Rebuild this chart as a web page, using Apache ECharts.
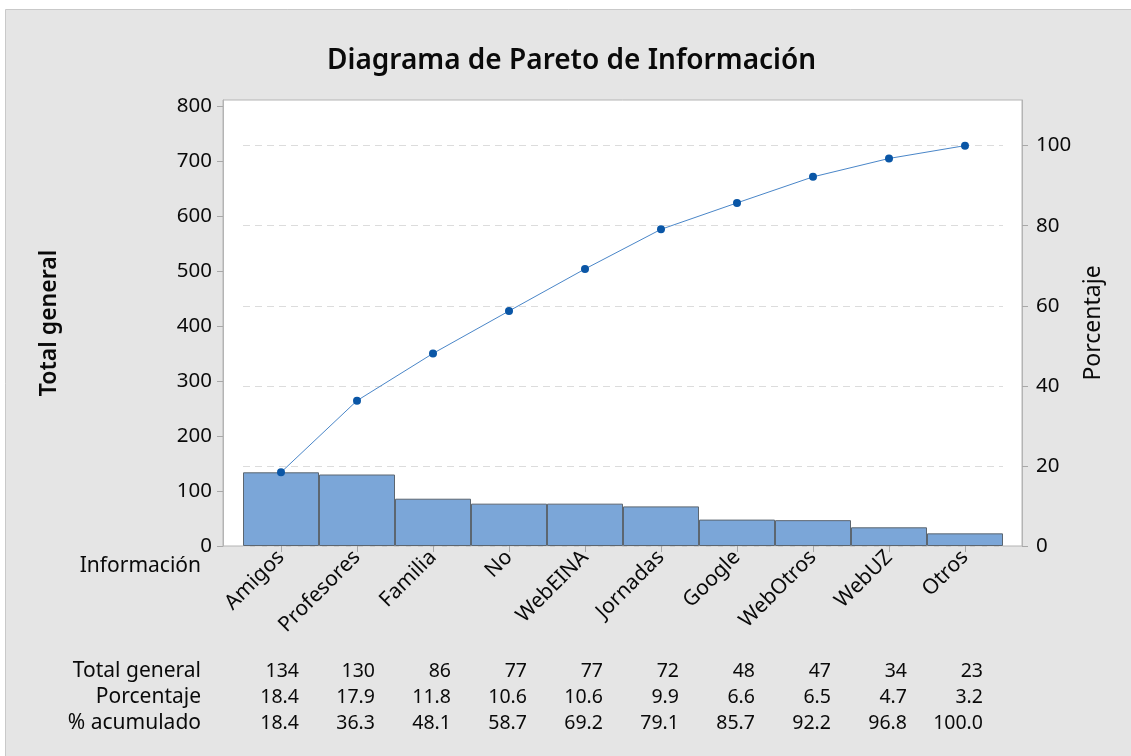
<!DOCTYPE html>
<html>
<head>
<meta charset="utf-8">
<title>Diagrama de Pareto de Información</title>
<script src="https://cdn.jsdelivr.net/npm/echarts@6/dist/echarts.min.js"></script>
<style>
  html, body { margin: 0; padding: 0; background: #fff; }
  #chart { width: 1131px; height: 756px; }
</style>
</head>
<body>
<div id="chart"></div>
<script>
// datos
var categorias = ['Amigos', 'Profesores', 'Familia', 'No', 'WebEINA', 'Jornadas', 'Google', 'WebOtros', 'WebUZ', 'Otros'];
var totalGeneral = [134, 130, 86, 77, 77, 72, 48, 47, 34, 23];
var porcentaje = [18.4, 17.9, 11.8, 10.6, 10.6, 9.9, 6.6, 6.5, 4.7, 3.2];
var acumulado = [18.4, 36.3, 48.1, 58.7, 69.2, 79.1, 85.7, 92.2, 96.8, 100.0];
var filas = ['Total general', 'Porcentaje', '% acumulado'];
var ticksIzq = [0, 100, 200, 300, 400, 500, 600, 700, 800];
var ticksDer = [0, 20, 40, 60, 80, 100];

var font = '"Noto Sans", "Open Sans", sans-serif';
var negro = '#0a0a0a';
var total = 728;
var maxIzq = 811;
var maxDer = maxIzq / total * 100;

var chart = echarts.init(document.getElementById('chart'), null, {renderer: 'canvas'});

function filaTabla(valores, offset, decimales) {
  return {
    type: 'category',
    gridIndex: 1,
    position: 'bottom',
    offset: offset,
    data: valores.map(function (v) { return decimales ? v.toFixed(decimales) : String(v) }),
    axisLine: {show: false},
    axisTick: {show: false},
    splitLine: {show: false},
    axisLabel: {
      interval: 0,
      margin: 0,
      verticalAlign: 'middle',
      align: 'center',
      formatter: function (v) { return '{a|' + v + '}' },
      rich: {a: {width: 36, align: 'right', fontFamily: font, fontSize: 19.5, color: negro}}
    }
  }
}

var graficos = [
  {type: 'rect', z: -100, shape: {x: 5.5, y: 9.5, width: 1130, height: 750},
    style: {fill: '#e5e5e5', stroke: '#c9c9c9', lineWidth: 1}},
  {type: 'text', x: 201, y: 566,
    style: {text: 'Información', align: 'right', verticalAlign: 'middle', font: '21px ' + font, fill: negro}}
];
filas.forEach(function (f, i) {
  graficos.push({type: 'text', x: 201, y: 671 + i * 26,
    style: {text: f, align: 'right', verticalAlign: 'middle', font: '21px ' + font, fill: negro}});
});

chart.setOption({
  animation: false,
  title: {
    text: 'Diagrama de Pareto de Información',
    left: 322,
    top: 42,
    textStyle: {fontFamily: font, fontSize: 28, fontWeight: 600, color: negro}
  },
  graphic: graficos,
  grid: [
    {left: 223, right: 109, top: 100, bottom: 210, show: true, backgroundColor: '#fff', borderColor: '#b4b4b4', borderWidth: 1},
    {left: 243, right: 128, top: 100, bottom: 210}
  ],
  xAxis: [
    {
      type: 'category',
      gridIndex: 1,
      data: categorias,
      axisLine: {show: false},
      axisTick: {show: true, alignWithLabel: true, length: 6, lineStyle: {color: '#a8a8a8'}},
      axisLabel: {interval: 0, rotate: 45, margin: 8, fontFamily: font, fontSize: 21, color: negro}
    },
    filaTabla(totalGeneral, 125, 0),
    filaTabla(porcentaje, 151, 1),
    filaTabla(acumulado, 177, 1)
  ],
  yAxis: [
    {
      type: 'value',
      gridIndex: 1,
      min: 0, max: maxIzq, interval: 100,
      offset: 20,
      name: 'Total general',
      nameLocation: 'middle',
      nameRotate: 90,
      nameGap: 162,
      nameTextStyle: {fontFamily: font, fontSize: 23, fontWeight: 600, color: negro},
      axisLine: {show: true, lineStyle: {color: '#b4b4b4'}},
      axisTick: {show: true, length: 6, customValues: ticksIzq, lineStyle: {color: '#a8a8a8'}},
      axisLabel: {margin: 11, fontFamily: font, fontSize: 20.5, color: negro, customValues: ticksIzq},
      splitLine: {show: false}
    },
    {
      type: 'value',
      gridIndex: 1,
      position: 'right',
      min: 0, max: maxDer, interval: 20,
      offset: 19,
      name: 'Porcentaje',
      nameLocation: 'middle',
      nameRotate: 90,
      nameGap: 56,
      nameTextStyle: {fontFamily: font, fontSize: 23, color: negro},
      axisLine: {show: true, lineStyle: {color: '#b4b4b4'}},
      axisTick: {show: true, length: 6, customValues: ticksDer, lineStyle: {color: '#a8a8a8'}},
      axisLabel: {margin: 14, fontFamily: font, fontSize: 20.5, color: negro, customValues: ticksDer},
      splitLine: {show: true, lineStyle: {color: '#dcdcdc', type: [7, 5], width: 1}}
    }
  ],
  series: [
    {
      type: 'bar',
      xAxisIndex: 0,
      yAxisIndex: 0,
      data: totalGeneral,
      barWidth: '100%',
      barCategoryGap: 0,
      itemStyle: {color: '#7ba6d8', borderColor: '#5c6670', borderWidth: 1}
    },
    {
      type: 'line',
      xAxisIndex: 0,
      yAxisIndex: 1,
      data: acumulado,
      symbol: 'circle',
      symbolSize: 8,
      lineStyle: {color: '#4a86c8', width: 1},
      itemStyle: {color: '#0a56a6'}
    }
  ]
});
</script>
</body>
</html>
